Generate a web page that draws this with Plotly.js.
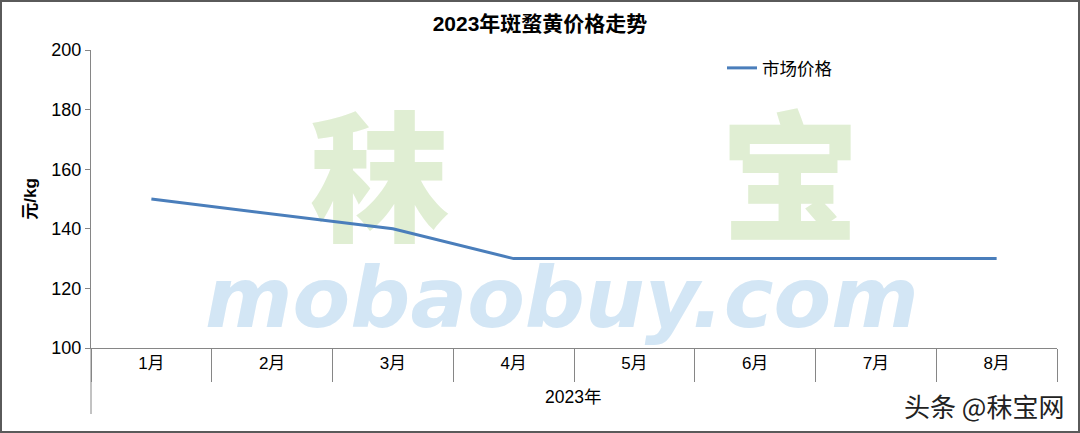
<!DOCTYPE html>
<html>
<head>
<meta charset="utf-8">
<script src="https://cdn.plot.ly/plotly-3.0.1.min.js"></script>
<style>
  html, body { margin: 0; padding: 0; background: #fff; }
  #wrap { position: relative; width: 1080px; height: 433px; }
  #chart { width: 1080px; height: 433px; }
  #frame { position: absolute; left: 0; top: 0; width: 1076px; height: 429px; border: 2px solid #5a5a5a; pointer-events: none; }
</style>
</head>
<body>
<div id="wrap"><div id="chart"></div><div id="frame"></div></div>
<script>
// ---- data ----
const months = ["1月", "2月", "3月", "4月", "5月", "6月", "7月", "8月"];
const marketPrice = [150, 145, 140, 130, 130, 130, 130, 130];
const yearLabel = "2023年";
const seriesName = "市场价格";
const chartTitle = "2023年斑蝥黄价格走势";
const yTitle = "元/kg";
const yTicks = [100, 120, 140, 160, 180, 200];

const FONT = "Liberation Sans, Arial, Noto Sans CJK SC, sans-serif";
const xIdx = months.map((m, i) => i);
const bounds = months.map((m, i) => i - 0.5).concat([months.length - 0.5]);

// watermark (decorative, drawn beneath the line)
const watermark = {
  x: [1.89, 5.29, 3.4],
  y: [151.5, 151.5, 114],
  mode: "text",
  text: ["秣", "宝", "<i>mobaobuy.com</i>"],
  textfont: {
    family: ["Noto Sans CJK SC", "Noto Sans CJK SC", "DejaVu Sans"],
    size: [140, 140, 84],
    color: ["#e0eed3", "#e0eed3", "#d3e6f5"],
    weight: 900
  },
  hoverinfo: "skip",
  showlegend: false,
  cliponaxis: false
};

const line = {
  x: xIdx,
  y: marketPrice,
  type: "scatter",
  mode: "lines",
  name: seriesName,
  line: { color: "#4a7ebb", width: 3 },
  cliponaxis: false
};

const layout = {
  width: 1080,
  height: 433,
  margin: { l: 91, r: 23, t: 50, b: 85 },
  paper_bgcolor: "#ffffff",
  plot_bgcolor: "rgba(0,0,0,0)",
  font: { family: FONT, color: "#000" },
  title: {
    text: "<b>" + chartTitle + "</b>",
    font: { family: "Liberation Sans, Noto Sans CJK SC, sans-serif", size: 21, color: "#000" },
    x: 0.5, xref: "container", xanchor: "center",
    y: 1 - 24 / 433, yref: "container", yanchor: "middle"
  },
  xaxis: {
    type: "linear",
    range: [-0.5, months.length - 0.5],
    tickmode: "array",
    tickvals: xIdx,
    ticktext: months,
    ticks: "",
    tickfont: { size: 17, color: "#000" },
    showgrid: false,
    zeroline: false,
    showline: true,
    linecolor: "#868686",
    linewidth: 1,
    minor: {
      tickmode: "array",
      tickvals: bounds,
      ticks: "outside",
      ticklen: 33,
      tickwidth: 1,
      tickcolor: "#868686",
      showgrid: false
    },
    fixedrange: true
  },
  yaxis: {
    range: [100, 200],
    tickmode: "array",
    tickvals: yTicks,
    ticks: "outside",
    ticklen: 5,
    tickcolor: "#868686",
    tickfont: { size: 18, color: "#000" },
    showgrid: false,
    zeroline: false,
    showline: true,
    linecolor: "#868686",
    linewidth: 1,
    title: { text: "<b>" + yTitle + "</b>", font: { size: 17, color: "#000" }, standoff: 10 },
    fixedrange: true
  },
  legend: {
    orientation: "h",
    x: (722 - 91) / 966, xanchor: "left",
    y: (348 - 68) / 298, yanchor: "middle",
    font: { size: 17.5, color: "#000" },
    bgcolor: "rgba(0,0,0,0)",
    itemwidth: 30
  },
  showlegend: true,
  shapes: [
    { type: "line", xref: "paper", yref: "paper", x0: 0, x1: 0, y0: 0, y1: -(414 - 348) / 298,
      line: { color: "#868686", width: 1 } }
  ],
  annotations: [
    { text: yearLabel, xref: "paper", yref: "paper", x: (573 - 91) / 966, y: -(397 - 348) / 298,
      xanchor: "center", yanchor: "middle", showarrow: false, font: { size: 17.5, color: "#000" } },
    { text: "头条 @秣宝网", xref: "paper", yref: "paper", x: (1066 - 91) / 966, y: -(405 - 348) / 298,
      xanchor: "right", yanchor: "middle", showarrow: false,
      font: { family: "Noto Sans CJK SC", size: 26, color: "#222" } }
  ]
};

Plotly.newPlot("chart", [watermark, line], layout, { displayModeBar: false, staticPlot: true });
</script>
</body>
</html>
